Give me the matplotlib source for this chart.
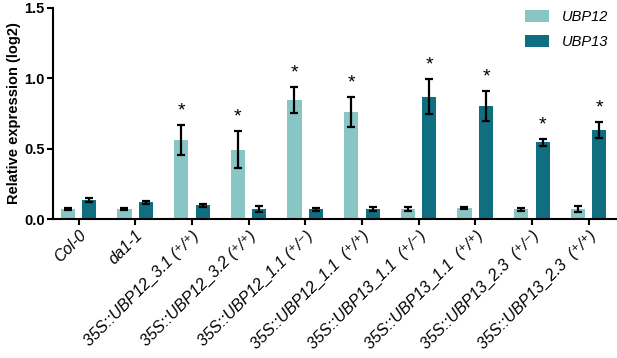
import numpy as np
import matplotlib
matplotlib.use("Agg")
import matplotlib.pyplot as plt

plt.rcParams['font.family'] = ['Liberation Sans', 'DejaVu Sans']

# Data
labels = ["Col-0", "da1-1",
          "35S::UBP12_3.1 (\u207a/\u207a)",
          "35S::UBP12_3.2 (\u207a/\u207a)",
          "35S::UBP12_1.1 (\u207a/\u207b)",
          "35S::UBP12_1.1  (\u207a/\u207a)",
          "35S::UBP13_1.1  (\u207a/\u207b)",
          "35S::UBP13_1.1  (\u207a/\u207a)",
          "35S::UBP13_2.3  (\u207a/\u207b)",
          "35S::UBP13_2.3  (\u207a/\u207a)"]
ubp12 = [0.072, 0.072, 0.563, 0.494, 0.845, 0.760, 0.075, 0.082, 0.072, 0.076]
ubp12_err = [0.008, 0.008, 0.105, 0.130, 0.094, 0.107, 0.015, 0.006, 0.012, 0.020]
ubp13 = [0.137, 0.122, 0.100, 0.072, 0.072, 0.075, 0.869, 0.802, 0.546, 0.634]
ubp13_err = [0.012, 0.010, 0.012, 0.020, 0.012, 0.014, 0.123, 0.105, 0.024, 0.054]
star12 = [False, False, True, True, True, True, False, False, False, False]
star13 = [False, False, False, False, False, False, True, True, True, True]

c12 = "#88c6c6"
c13 = "#0f6f81"

fig = plt.figure(figsize=(6.17, 3.58), dpi=100)
ax = fig.add_axes([0.086, 0.387, 0.912, 0.592])

x = np.arange(len(labels))
w = 0.25
off = 0.19
ekw = dict(elinewidth=1.6, capthick=1.6, ecolor='black')
ax.bar(x - off, ubp12, w, color=c12, label='UBP12',
       yerr=ubp12_err, capsize=3, error_kw=ekw)
ax.bar(x + off, ubp13, w, color=c13, label='UBP13',
       yerr=ubp13_err, capsize=3, error_kw=ekw)

for i in range(len(labels)):
    if star12[i]:
        ax.text(x[i] - off, ubp12[i] + ubp12_err[i] + 0.1, '*', ha='center',
                va='center', fontsize=14)
    if star13[i]:
        ax.text(x[i] + off, ubp13[i] + ubp13_err[i] + 0.1, '*', ha='center',
                va='center', fontsize=14)

ax.set_xlim(-0.45, 9.48)
ax.set_ylim(0, 1.5)
ax.set_yticks([0.0, 0.5, 1.0, 1.5])
ax.set_yticklabels(['0.0', '0.5', '1.0', '1.5'], fontweight='bold', fontsize=10.5)
ax.set_ylabel('Relative expression (log2)', fontweight='bold', fontsize=10.5,
              labelpad=2)
ax.set_xticks(x)
ax.set_xticklabels(labels, rotation=45, ha='right', rotation_mode='anchor',
                   fontstyle='italic', fontsize=11.5)
ax.spines['top'].set_visible(False)
ax.spines['right'].set_visible(False)
ax.spines['left'].set_linewidth(1.5)
ax.spines['bottom'].set_linewidth(1.5)
ax.tick_params(axis='both', width=1.5, length=4, pad=2)

leg = ax.legend(loc='upper right', bbox_to_anchor=(1.01, 1.05), frameon=False,
                handlelength=1.6, handleheight=0.9, handletextpad=0.9,
                labelspacing=0.75, prop={'style': 'italic', 'size': 10.5})

fig.savefig("out.png", dpi=100)
